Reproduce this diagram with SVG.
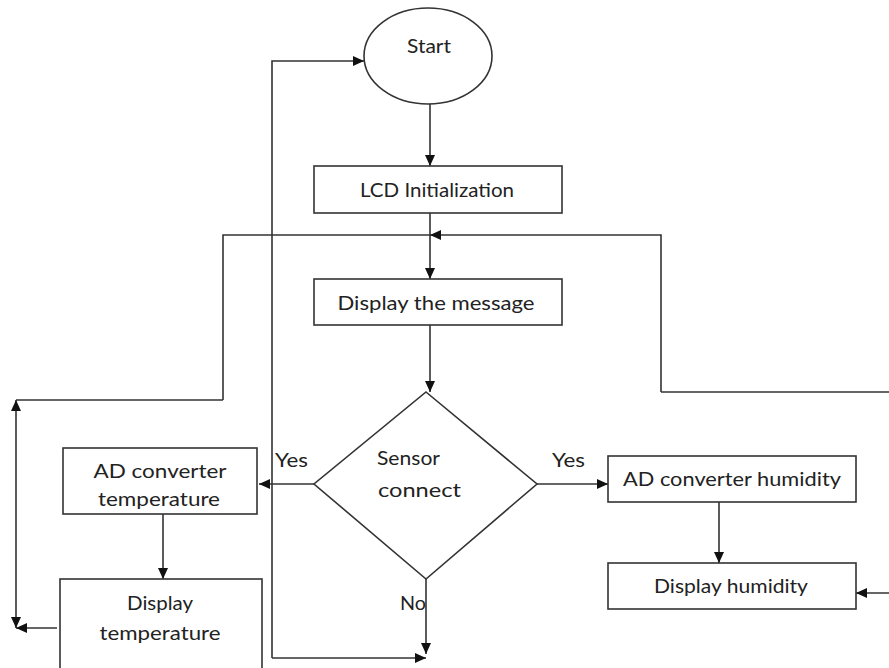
<svg xmlns="http://www.w3.org/2000/svg" width="889" height="668" viewBox="0 0 889 668">
<defs>
<style>
.shape{fill:#fff;stroke:#333;stroke-width:1.6}
.line{fill:none;stroke:#333;stroke-width:1.6}
.t{font-family:"Lato","Liberation Sans",sans-serif;font-size:20px;fill:#222}
</style>
<marker id="ah" markerUnits="userSpaceOnUse" markerWidth="12" markerHeight="10" refX="11" refY="5" orient="auto-start-reverse" viewBox="0 0 12 10">
<path d="M0,0 L11,5 L0,10 z" fill="#111"/>
</marker>
</defs>
<rect width="889" height="668" fill="#fff"/>
<g id="connectors">
<path class="line" d="M272,658 L272,61 L364,61" marker-end="url(#ah)"/>
<path class="line" d="M430,104 L430,166" marker-end="url(#ah)"/>
<path class="line" d="M430,213 L430,279" marker-end="url(#ah)"/>
<path class="line" d="M223,400 L223,235 L430,235"/>
<path class="line" d="M661,392 L661,235 L430,235" marker-end="url(#ah)"/>
<path class="line" d="M889,392 L661,392"/>
<path class="line" d="M223,400 L16,400"/>
<path class="line" d="M16,400 L16,628" marker-start="url(#ah)" marker-end="url(#ah)"/>
<path class="line" d="M57,628 L16,628" marker-end="url(#ah)"/>
<path class="line" d="M430,325 L430,392" marker-end="url(#ah)"/>
<path class="line" d="M314,484 L259,484" marker-end="url(#ah)"/>
<path class="line" d="M537,484 L608,484" marker-end="url(#ah)"/>
<path class="line" d="M163,514 L163,579" marker-end="url(#ah)"/>
<path class="line" d="M719,502 L719,563" marker-end="url(#ah)"/>
<path class="line" d="M889,593 L856,593" marker-end="url(#ah)"/>
<path class="line" d="M426,579 L426,654" marker-end="url(#ah)"/>
<path class="line" d="M272,658 L426,658" marker-end="url(#ah)"/>
</g>
<g id="start">
<ellipse class="shape" cx="428" cy="56" rx="64" ry="48"/>
<text class="t" x="429" y="53" text-anchor="middle" textLength="44" lengthAdjust="spacingAndGlyphs">Start</text>
</g>
<g id="lcd">
<rect class="shape" x="314" y="166" width="248" height="47"/>
<text class="t" x="437" y="197" text-anchor="middle" textLength="154" lengthAdjust="spacingAndGlyphs">LCD Initialization</text>
</g>
<g id="message">
<rect class="shape" x="314" y="279" width="248" height="46"/>
<text class="t" x="436" y="310" text-anchor="middle" textLength="197" lengthAdjust="spacingAndGlyphs">Display the message</text>
</g>
<g id="sensor">
<polygon class="shape" points="426,392 537,484 426,579 314,484"/>
<text class="t" x="377" y="465" textLength="63" lengthAdjust="spacingAndGlyphs">Sensor</text>
<text class="t" x="378" y="497" textLength="83" lengthAdjust="spacingAndGlyphs">connect</text>
</g>
<g id="labels">
<text class="t" x="275" y="467" textLength="33" lengthAdjust="spacingAndGlyphs">Yes</text>
<text class="t" x="552" y="467" textLength="33" lengthAdjust="spacingAndGlyphs">Yes</text>
<text class="t" x="400" y="610" textLength="26" lengthAdjust="spacingAndGlyphs">No</text>
</g>
<g id="adtemp">
<rect class="shape" x="63" y="448" width="194" height="66"/>
<text class="t" x="160" y="478" text-anchor="middle" textLength="133" lengthAdjust="spacingAndGlyphs">AD converter</text>
<text class="t" x="159" y="506" text-anchor="middle" textLength="122" lengthAdjust="spacingAndGlyphs">temperature</text>
</g>
<g id="disptemp">
<rect class="shape" x="60" y="579" width="202" height="100"/>
<text class="t" x="160" y="610" text-anchor="middle" textLength="66" lengthAdjust="spacingAndGlyphs">Display</text>
<text class="t" x="160" y="640" text-anchor="middle" textLength="121" lengthAdjust="spacingAndGlyphs">temperature</text>
</g>
<g id="adhum">
<rect class="shape" x="608" y="456" width="248" height="46"/>
<text class="t" x="732" y="486" text-anchor="middle" textLength="218" lengthAdjust="spacingAndGlyphs">AD converter humidity</text>
</g>
<g id="disphum">
<rect class="shape" x="608" y="563" width="248" height="46"/>
<text class="t" x="731" y="593" text-anchor="middle" textLength="154" lengthAdjust="spacingAndGlyphs">Display humidity</text>
</g>
</svg>
